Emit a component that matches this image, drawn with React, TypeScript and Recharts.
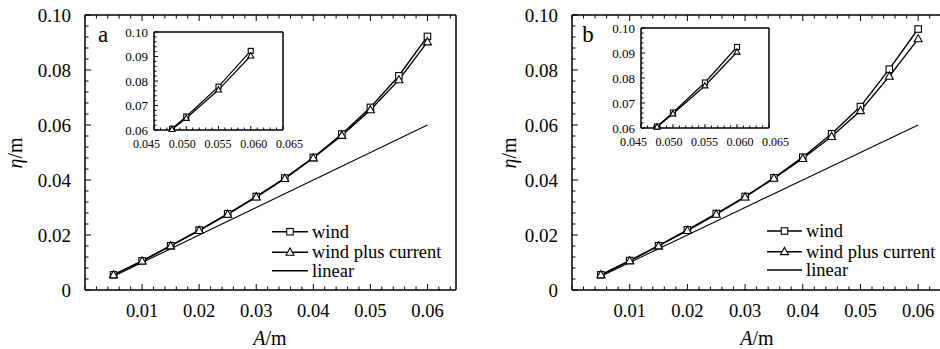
import { CartesianGrid, Line, LineChart, XAxis, YAxis } from "recharts";

// wave amplitude A (m) used on the main panels
const amplitude = [0.005, 0.01, 0.015, 0.02, 0.025, 0.03, 0.035, 0.04, 0.045, 0.05, 0.055, 0.06];
const linearEta = [0.005, 0.01, 0.015, 0.02, 0.025, 0.03, 0.035, 0.04, 0.045, 0.05, 0.055, 0.06];

// panel a
const windA = [0.0055, 0.0106, 0.0161, 0.0218, 0.0277, 0.034, 0.0407, 0.0482, 0.0567, 0.0664, 0.0779, 0.0922];
const currentA = [0.0055, 0.0105, 0.016, 0.0216, 0.0275, 0.0338, 0.0405, 0.048, 0.0562, 0.0655, 0.0764, 0.0902];
// panel b
const windB = [0.0055, 0.0107, 0.0161, 0.0219, 0.0278, 0.034, 0.0408, 0.0483, 0.0568, 0.0667, 0.0803, 0.0949];
const currentB = [0.0055, 0.0106, 0.016, 0.0216, 0.0275, 0.0338, 0.0406, 0.0478, 0.0558, 0.0652, 0.0777, 0.0913];

// insets (zoom on the upper end)
const insetAmpA = [0.0478, 0.05, 0.055, 0.06];
const insetWindA = [0.0605, 0.0655, 0.0777, 0.0923];
const insetCurrentA = [0.0603, 0.0648, 0.0764, 0.0903];
const insetAmpB = [0.0475, 0.05, 0.055, 0.06];
const insetWindB = [0.0606, 0.0662, 0.0782, 0.0924];
const insetCurrentB = [0.0604, 0.0657, 0.0769, 0.0904];

// tick labels
const mainXLabels = [0.01, 0.02, 0.03, 0.04, 0.05, 0.06];
const mainYLabels = [0, 0.02, 0.04, 0.06, 0.08, 0.1];
const insetXLabels = [0.045, 0.05, 0.055, 0.06, 0.065];
const insetYLabels = [0.06, 0.07, 0.08, 0.09, 0.1];

// the renderer only takes a single family name here
const FONT = "Liberation Serif";

function steps(from: number, to: number, step: number) {
  const out: number[] = [];
  const n = Math.round((to - from) / step);
  for (let i = 0; i <= n; i++) out.push(+(from + i * step).toFixed(4));
  return out;
}

const mainXTicks = steps(0, 0.064, 0.002);
const mainYTicks = steps(0, 0.1, 0.004);
const insetXTicks = steps(0.045, 0.065, 0.001);
const insetYTicks = steps(0.06, 0.1, 0.002);

type Side = "bottom" | "top" | "left" | "right";

interface TickCfg {
  side: Side;
  gap: number;
  major: number[];
  big: number;
  small: number;
  fontSize?: number;
  format?: (v: number) => string;
  shift?: (v: number) => number;
}

function makeTick(cfg: TickCfg) {
  return (props: any) => {
    const { x, y, payload } = props;
    const v = payload.value as number;
    const isMajor = cfg.major.some((m) => Math.abs(m - v) < 1e-7);
    const len = isMajor ? cfg.big : cfg.small;
    const lbl = isMajor && cfg.format ? cfg.format(v) : null;
    if (cfg.side === "bottom") {
      const ay = y - cfg.gap;
      const dx = cfg.shift ? cfg.shift(v) : 0;
      return (
        <g>
          <line x1={x} x2={x} y1={ay} y2={ay - len} stroke="#000" strokeWidth={1} />
          {lbl && (
            <text
              x={x + dx}
              y={y}
              textAnchor="middle"
              dominantBaseline="central"
              fontFamily={FONT}
              fontSize={cfg.fontSize}
              fill="#000"
            >
              {lbl}
            </text>
          )}
        </g>
      );
    }
    if (cfg.side === "left") {
      const ax = x + cfg.gap;
      return (
        <g>
          <line x1={ax} x2={ax + len} y1={y} y2={y} stroke="#000" strokeWidth={1} />
          {lbl && (
            <text
              x={x}
              y={y}
              textAnchor="end"
              dominantBaseline="central"
              fontFamily={FONT}
              fontSize={cfg.fontSize}
              fill="#000"
            >
              {lbl}
            </text>
          )}
        </g>
      );
    }
    if (cfg.side === "top") {
      return <line x1={x} x2={x} y1={y} y2={y + len} stroke="#000" strokeWidth={1} />;
    }
    return <line x1={x} x2={x - len} y1={y} y2={y} stroke="#000" strokeWidth={1} />;
  };
}

function squareDot(size: number) {
  return (p: any) => {
    if (p.cx == null || p.cy == null) return <g key={`s-${p.index}`} />;
    return (
      <rect
        key={`s-${p.index}`}
        x={p.cx - size / 2}
        y={p.cy - size / 2}
        width={size}
        height={size}
        fill="#fff"
        stroke="#000"
        strokeWidth={1.1}
      />
    );
  };
}

function triangleDot(size: number) {
  return (p: any) => {
    if (p.cx == null || p.cy == null) return <g key={`t-${p.index}`} />;
    const h = size * 0.9;
    const pts = `${p.cx},${p.cy - h * 0.6} ${p.cx - size / 2},${p.cy + h * 0.4} ${p.cx + size / 2},${p.cy + h * 0.4}`;
    return <polygon key={`t-${p.index}`} points={pts} fill="#fff" stroke="#000" strokeWidth={1.1} />;
  };
}

const frame = { stroke: "#000", strokeWidth: 1.5 };

interface MainProps {
  left: number;
  width: number;
  yAxisWidth: number;
  rightWidth: number;
  wind: number[];
  current: number[];
}

function MainPanel({ left, width, yAxisWidth, rightWidth, wind, current }: MainProps) {
  const data = amplitude.map((a, i) => ({ A: a, wind: wind[i], current: current[i], linear: linearEta[i] }));
  return (
    <div style={{ position: "absolute", left, top: 0 }}>
      <LineChart width={width} height={349} data={data} margin={{ top: 0, right: 0, bottom: 0, left: 0 }}>
        <XAxis
          xAxisId="b"
          dataKey="A"
          type="number"
          domain={[0, 0.065]}
          ticks={mainXTicks}
          interval={0}
          height={59}
          tickSize={0}
          tickMargin={21}
          tickLine={false}
          axisLine={frame}
          tick={makeTick({ side: "bottom", gap: 21, major: mainXLabels, big: 6, small: 3.5, fontSize: 18.5, format: (v) => v.toFixed(2) })}
        />
        <XAxis
          xAxisId="t"
          dataKey="A"
          type="number"
          orientation="top"
          domain={[0, 0.065]}
          ticks={mainXTicks}
          interval={0}
          height={15}
          tickSize={0}
          tickMargin={0}
          tickLine={false}
          axisLine={frame}
          tick={makeTick({ side: "top", gap: 0, major: mainXLabels, big: 6, small: 3.5 })}
        />
        <YAxis
          yAxisId="l"
          type="number"
          domain={[0, 0.1]}
          ticks={mainYTicks}
          interval={0}
          width={yAxisWidth}
          tickSize={0}
          tickMargin={14}
          tickLine={false}
          axisLine={frame}
          tick={makeTick({
            side: "left",
            gap: 14,
            major: mainYLabels,
            big: 6,
            small: 3.5,
            fontSize: 19,
            format: (v) => (v === 0 ? "0" : v.toFixed(2)),
          })}
        />
        <YAxis
          yAxisId="r"
          type="number"
          orientation="right"
          domain={[0, 0.1]}
          ticks={mainYTicks}
          interval={0}
          width={rightWidth}
          tickSize={0}
          tickMargin={0}
          tickLine={false}
          axisLine={frame}
          tick={makeTick({ side: "right", gap: 0, major: mainYLabels, big: 6, small: 3.5 })}
        />
        <Line
          xAxisId="b"
          yAxisId="l"
          dataKey="linear"
          stroke="#000"
          strokeWidth={1.1}
          dot={false}
          isAnimationActive={false}
        />
        <Line
          xAxisId="b"
          yAxisId="l"
          dataKey="wind"
          stroke="#000"
          strokeWidth={1.4}
          dot={squareDot(6.5)}
          isAnimationActive={false}
        />
        <Line
          xAxisId="b"
          yAxisId="l"
          dataKey="current"
          stroke="#000"
          strokeWidth={1.4}
          dot={triangleDot(8)}
          isAnimationActive={false}
        />
      </LineChart>
    </div>
  );
}

interface InsetProps {
  left: number;
  top: number;
  width: number;
  height: number;
  yAxisWidth: number;
  amp: number[];
  wind: number[];
  current: number[];
}

function InsetPanel({ left, top, width, height, yAxisWidth, amp, wind, current }: InsetProps) {
  const data = amp.map((a, i) => ({ A: a, wind: wind[i], current: current[i] }));
  return (
    <div style={{ position: "absolute", left, top }}>
      <LineChart width={width} height={height} data={data} margin={{ top: 0, right: 24, bottom: 0, left: 0 }}>
        <CartesianGrid xAxisId="b" yAxisId="l" horizontal={false} vertical={false} fill="#fff" stroke="none" />
        <XAxis
          xAxisId="b"
          dataKey="A"
          type="number"
          domain={[0.045, 0.065]}
          ticks={insetXTicks}
          interval={0}
          height={25}
          tickSize={0}
          tickMargin={14}
          tickLine={false}
          axisLine={frame}
          tick={makeTick({
            side: "bottom",
            gap: 14,
            major: insetXLabels,
            big: 4,
            small: 2.5,
            fontSize: 12,
            format: (v) => v.toFixed(3),
            shift: (v) => ((v - 0.055) / 0.005) * 3.5 - 0.6,
          })}
        />
        <XAxis
          xAxisId="t"
          dataKey="A"
          type="number"
          orientation="top"
          domain={[0.045, 0.065]}
          ticks={[]}
          height={7}
          tickLine={false}
          axisLine={frame}
          tick={false}
        />
        <YAxis
          yAxisId="l"
          type="number"
          domain={[0.06, 0.1]}
          ticks={insetYTicks}
          interval={0}
          width={yAxisWidth}
          tickSize={0}
          tickMargin={6}
          tickLine={false}
          axisLine={frame}
          tick={makeTick({ side: "left", gap: 6, major: insetYLabels, big: 4, small: 2.5, fontSize: 13, format: (v) => v.toFixed(2) })}
        />
        <YAxis
          yAxisId="r"
          type="number"
          orientation="right"
          domain={[0.06, 0.1]}
          ticks={[]}
          width={1}
          tickLine={false}
          axisLine={frame}
          tick={false}
        />
        <Line
          xAxisId="b"
          yAxisId="l"
          dataKey="wind"
          stroke="#000"
          strokeWidth={1.2}
          dot={squareDot(5)}
          isAnimationActive={false}
        />
        <Line
          xAxisId="b"
          yAxisId="l"
          dataKey="current"
          stroke="#000"
          strokeWidth={1.2}
          dot={triangleDot(6)}
          isAnimationActive={false}
        />
      </LineChart>
    </div>
  );
}

interface LegendProps {
  x0: number;
  x1: number;
  rows: number[];
}

function LegendBlock({ x0, x1, rows }: LegendProps) {
  const mid = (x0 + x1) / 2;
  const labels = ["wind", "wind plus current", "linear"];
  return (
    <g>
      {rows.map((ry, i) => (
        <g key={labels[i]}>
          <line x1={x0} x2={x1} y1={ry} y2={ry} stroke="#000" strokeWidth={1.4} />
          {i === 0 && squareDot(6.5)({ cx: mid, cy: ry, index: 0 })}
          {i === 1 && triangleDot(8)({ cx: mid, cy: ry, index: 0 })}
          <text x={x1 + 4} y={ry} dominantBaseline="central" fontFamily={FONT} fontSize={18.5}>
            {labels[i]}
          </text>
        </g>
      ))}
    </g>
  );
}

function AxisTitles({ yx, xx, letter, lx }: { yx: number; xx: number; letter: string; lx: number }) {
  return (
    <g fill="#000">
      <text
        x={yx}
        y={153}
        transform={`rotate(-90, ${yx}, 153)`}
        textAnchor="middle"
        dominantBaseline="central"
        fontFamily={FONT}
        fontSize={20}
      >
        <tspan fontStyle="italic">η</tspan>/m
      </text>
      <text x={xx} y={338} textAnchor="middle" dominantBaseline="central" fontFamily={FONT} fontSize={20}>
        <tspan fontStyle="italic">A</tspan>/m
      </text>
      <text x={lx} y={42} textAnchor="middle" fontFamily={FONT} fontSize={23}>
        {letter}
      </text>
    </g>
  );
}

export default function App() {
  return (
    <div
      style={{
        position: "fixed",
        left: 0,
        top: 0,
        width: 940,
        height: 349,
        overflow: "hidden",
        background: "#fff",
      }}
    >
      <MainPanel left={0} width={470} yAxisWidth={85} rightWidth={14} wind={windA} current={currentA} />
      <MainPanel left={470} width={478} yAxisWidth={102} rightWidth={1} wind={windB} current={currentB} />
      <InsetPanel
        left={113}
        top={25}
        width={195}
        height={130}
        yAxisWidth={41}
        amp={insetAmpA}
        wind={insetWindA}
        current={insetCurrentA}
      />
      <InsetPanel
        left={601}
        top={21}
        width={193}
        height={132}
        yAxisWidth={40}
        amp={insetAmpB}
        wind={insetWindB}
        current={insetCurrentB}
      />
      <svg width={940} height={349} style={{ position: "absolute", left: 0, top: 0, pointerEvents: "none" }}>
        <AxisTitles yx={15} xx={270} letter="a" lx={103} />
        <AxisTitles yx={509} xx={757} letter="b" lx={588} />
        <LegendBlock x0={272} x1={308} rows={[231.7, 252.3, 270.7]} />
        <LegendBlock x0={767} x1={802} rows={[231, 251.7, 270]} />
      </svg>
    </div>
  );
}
